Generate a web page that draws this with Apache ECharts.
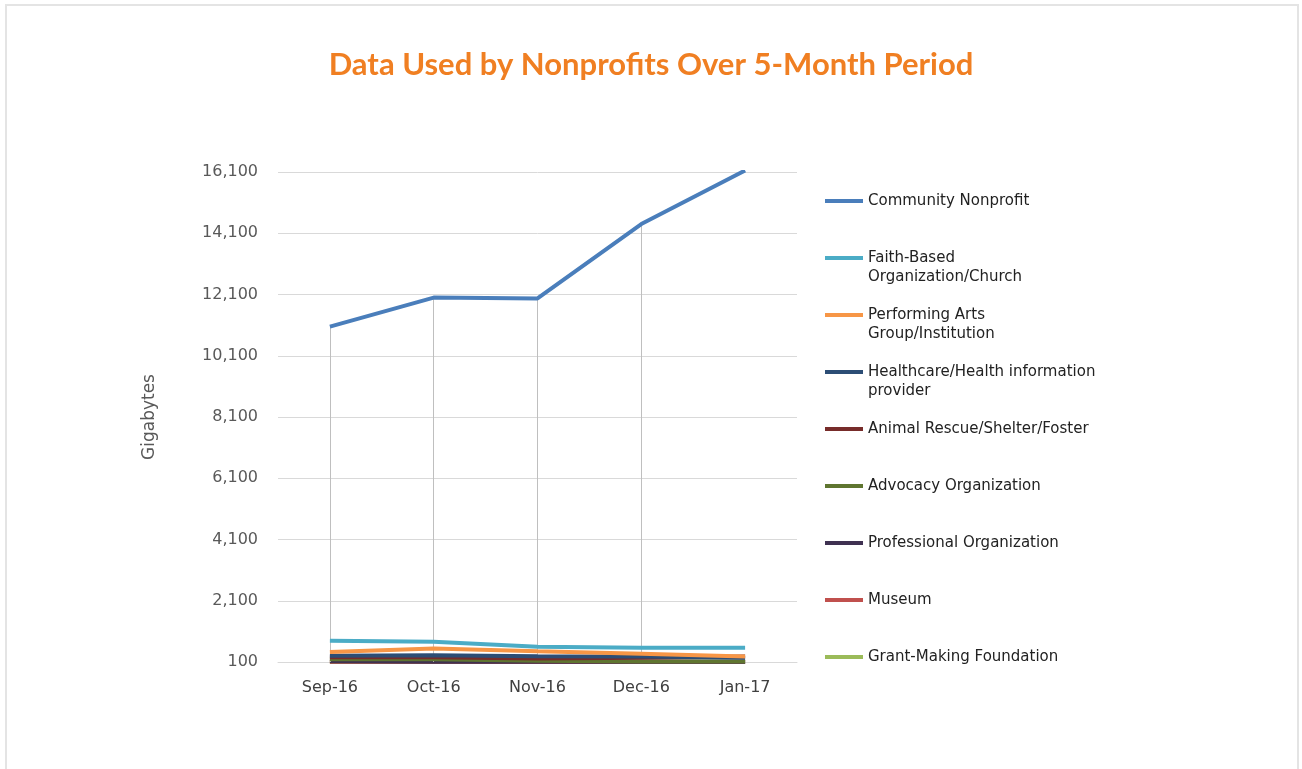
<!DOCTYPE html>
<html>
<head>
<meta charset="utf-8">
<title>Data Used by Nonprofits Over 5-Month Period</title>
<script src="https://cdn.jsdelivr.net/npm/echarts@6/dist/echarts.min.js"></script>
<style>
  html, body { margin: 0; padding: 0; background: #ffffff; overflow: hidden; }
  #chart { width: 1302px; height: 769px; }
  .frame {
    position: absolute; left: 5px; top: 4px; width: 1290px; height: 800px;
    border: 2px solid #e4e4e4; pointer-events: none;
  }
</style>
</head>
<body>
<div id="chart"></div>
<div class="frame"></div>
<script>
// months on the x axis
const months = ['Sep-16', 'Oct-16', 'Nov-16', 'Dec-16', 'Jan-17'];

// gigabytes per month
const communityNonprofit = [11050, 12000, 11970, 14400, 16150];
const faithBased         = [790, 760, 596, 564, 564];
const performingArts     = [430, 540, 453, 368, 280];
const healthcare         = [302, 322, 290, 280, 237];
const animalRescue       = [257, 257, 214, 237, 280];
const advocacy           = [191, 191, 140, 116, 116];
const professional       = [126, 110, 105, 105, 105];
const museum             = [110, 105, 102, 102, 102];
const grantMaking        = [104, 102, 100, 100, 100];

const seriesNames = [
  'Community Nonprofit',
  'Faith-Based Organization/Church',
  'Performing Arts Group/Institution',
  'Healthcare/Health information provider',
  'Animal Rescue/Shelter/Foster',
  'Advocacy Organization',
  'Professional Organization',
  'Museum',
  'Grant-Making Foundation'
];
const seriesValues = [communityNonprofit, faithBased, performingArts, healthcare,
  animalRescue, advocacy, professional, museum, grantMaking];

// y axis ticks: 100, 2,100 ... 16,100
const yMin = 100;
const yMax = 16100;
const yStep = 2000;

const colors = ['#4a7ebb', '#4bacc6', '#f79646', '#2c4d75', '#772c2a',
  '#5f7530', '#3f3151', '#c0504d', '#9bbb59'];

// how the legend wraps the long names (leading blank line keeps the
// swatch level with the first line)
const legendWrap = {
  'Faith-Based Organization/Church': '\nFaith-Based\nOrganization/Church',
  'Performing Arts Group/Institution': '\nPerforming Arts\nGroup/Institution',
  'Healthcare/Health information provider': '\nHealthcare/Health information\nprovider'
};

const chart = echarts.init(document.getElementById('chart'));

// drop lines from the bottom of the axis up to the highest point of each month
const dropLines = months.map(function (m, i) {
  const top = Math.max.apply(null, seriesValues.map(function (s) { return s[i]; }));
  return [{ coord: [m, yMin] }, { coord: [m, top] }];
});

const legends = seriesNames.map(function (name, i) {
  const twoLines = !!legendWrap[name];
  const rowY = 201 + i * 57;
  return {
    data: [name],
    orient: 'vertical',
    left: 825,
    top: twoLines ? rowY - 28.5 : rowY - 9.5,
    padding: 0,
    icon: 'rect',
    itemWidth: 38,
    itemHeight: 4,
    selectedMode: false,
    formatter: function (n) { return legendWrap[n] || n; },
    textStyle: {
      fontFamily: 'DejaVu Sans',
      fontSize: 15,
      color: '#222222',
      lineHeight: 19
    }
  };
});

const series = seriesNames.map(function (name, i) {
  return {
    name: name,
    type: 'line',
    data: seriesValues[i],
    symbol: 'none',
    color: colors[i],
    lineStyle: { width: 4, color: colors[i] },
    z: 10 - i
  };
});

series.push({
  name: 'drop',
  type: 'line',
  data: [],
  silent: true,
  z: 1,
  markLine: {
    silent: true,
    symbol: 'none',
    animation: false,
    label: { show: false },
    lineStyle: { color: '#bfbfbf', width: 1, type: 'solid' },
    data: dropLines
  }
});

const option = {
  animation: false,
  title: {
    text: 'Data Used by Nonprofits Over 5-Month Period',
    left: 'center',
    top: 44,
    textStyle: {
      fontFamily: 'Lato',
      fontSize: 31,
      fontWeight: 'bold',
      color: '#f07f22'
    }
  },
  legend: legends,
  grid: {
    left: 278,
    right: 505,
    top: 172,
    bottom: 107,
    containLabel: false
  },
  xAxis: {
    type: 'category',
    data: months,
    boundaryGap: true,
    axisLine: { lineStyle: { color: '#d9d9d9', width: 1 } },
    axisTick: { show: false },
    splitLine: { show: false },
    axisLabel: {
      fontFamily: 'DejaVu Sans',
      fontSize: 16,
      color: '#404040',
      margin: 18
    }
  },
  yAxis: {
    type: 'value',
    min: yMin,
    max: yMax,
    interval: yStep,
    name: 'Gigabytes',
    nameLocation: 'middle',
    nameRotate: 90,
    nameGap: 120,
    nameTextStyle: {
      fontFamily: 'DejaVu Sans',
      fontSize: 17,
      color: '#595959'
    },
    axisLine: { show: false },
    axisTick: { show: false },
    splitLine: { lineStyle: { color: '#d9d9d9', width: 1 } },
    axisLabel: {
      fontFamily: 'DejaVu Sans',
      fontSize: 16,
      color: '#595959',
      margin: 20,
      formatter: function (v) { return v.toLocaleString('en-US'); }
    }
  },
  series: series
};

chart.setOption(option);
</script>
</body>
</html>
